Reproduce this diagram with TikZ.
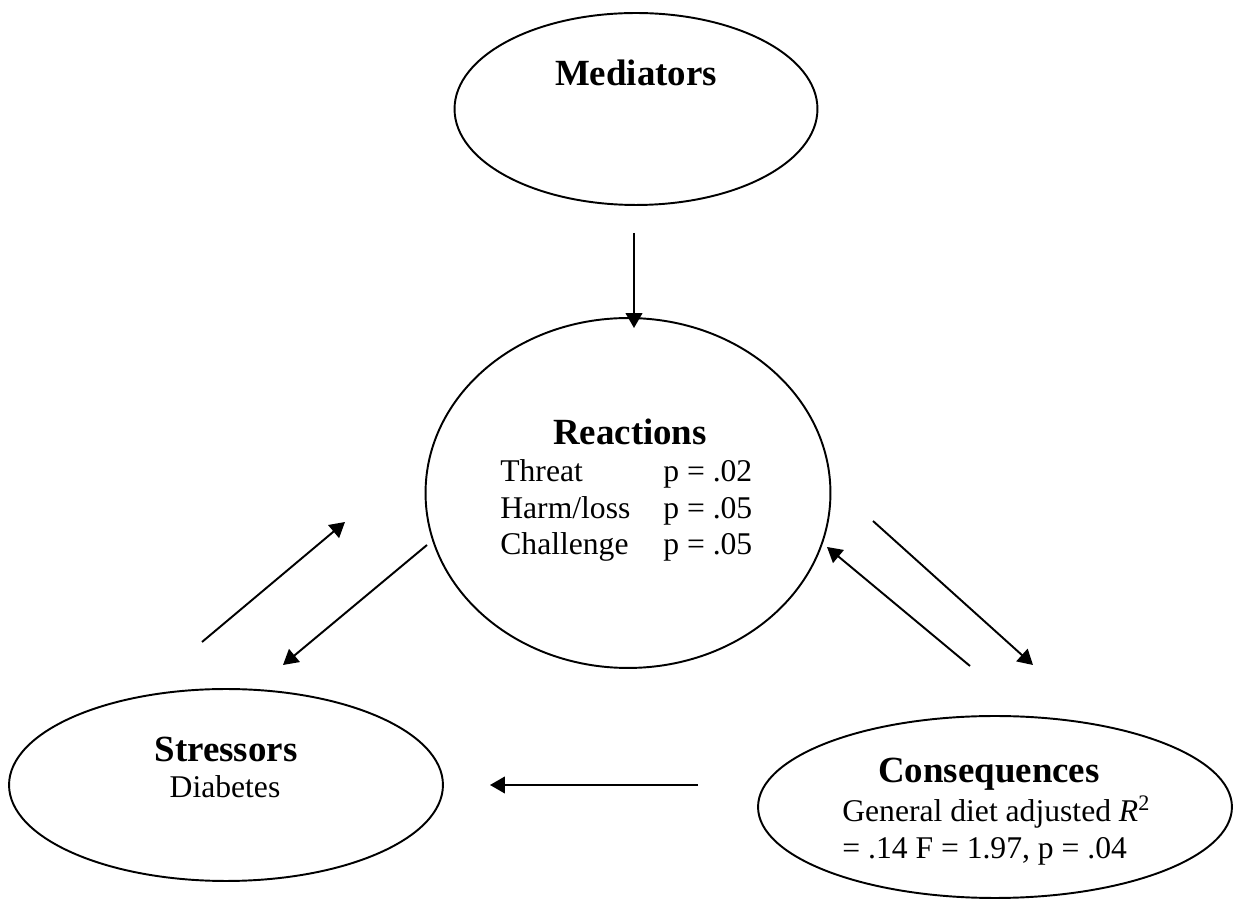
\documentclass[tikz,border=0pt]{standalone}
\usepackage{fontspec}
\setmainfont{Liberation Serif}
\usetikzlibrary{shapes.geometric,arrows.meta}
\begin{document}
\begin{tikzpicture}[x=0.02cm, y=-0.02cm,
  bubble/.style={draw, ellipse, line width=1.1pt, inner sep=0pt},
  arr/.style={line width=1.1pt, -{Triangle[length=8.5pt,width=9.5pt]}},
  title/.style={font=\fontsize{21}{24}\selectfont\bfseries, anchor=base, inner sep=0pt},
  body/.style={font=\fontsize{18}{20.7}\selectfont, anchor=base west, inner sep=0pt}]
  \useasboundingbox (0,0) rectangle (1235,901);

  % The four ellipses
  \node[bubble, minimum width=7.26cm, minimum height=3.84cm] (med) at (636,109) {};
  \node[bubble, minimum width=8.1cm, minimum height=7.0cm] (rea) at (628,493) {};
  \node[bubble, minimum width=8.68cm, minimum height=3.84cm] (str) at (226,785) {};
  \node[bubble, minimum width=9.48cm, minimum height=3.64cm] (con) at (995,807) {};

  % Texts inside them
  \node[title] (medtitle) at (636,86) {Mediators};
  \node[title] (reatitle) at (630,445) {Reactions};
  \node[body] (reatext) at (500,482) {\begin{tabular}[t]{@{}p{3.26cm}@{}l@{}}
    Threat & p = .02\\
    Harm/loss & p = .05\\
    Challenge & p = .05
  \end{tabular}};
  \node[title] (strtitle) at (226,762) {Stressors};
  \node[body, anchor=base] (strtext) at (225,798) {Diabetes};
  \node[title] (contitle) at (989,783) {Consequences};
  \node[body] (context) at (842,822) {\begin{tabular}[t]{@{}l@{}}
    General diet adjusted \textit{R}\textsuperscript{2}\\
    = .14 F = 1.97, p = .04
  \end{tabular}};

  % Free arrow ends
  \coordinate (medA) at (634,233);
  \coordinate (medB) at (634,328);
  \coordinate (strA) at (202,642);
  \coordinate (strB) at (345,522);
  \coordinate (reaA) at (427,545);
  \coordinate (reaB) at (283,665);
  \coordinate (reaC) at (873,521);
  \coordinate (reaD) at (1033,665);
  \coordinate (conA) at (970,666);
  \coordinate (conB) at (827,547);
  \coordinate (conC) at (698,785);
  \coordinate (conD) at (490,785);

  % Arrows
  \draw[arr] (medA) -- (medB);
  \draw[arr] (strA) -- (strB);
  \draw[arr] (reaA) -- (reaB);
  \draw[arr] (reaC) -- (reaD);
  \draw[arr] (conA) -- (conB);
  \draw[arr] (conC) -- (conD);
\end{tikzpicture}
\end{document}
